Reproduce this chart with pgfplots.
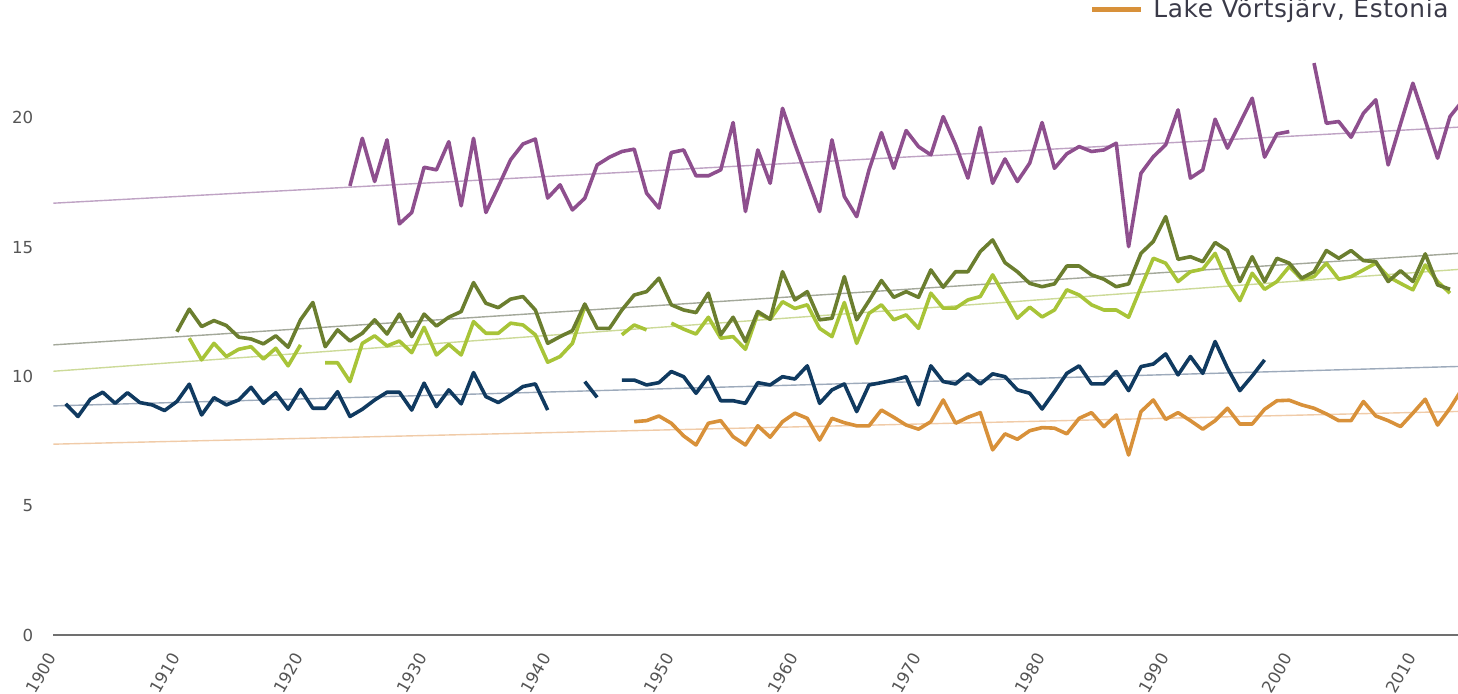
\documentclass[border=0pt]{standalone}
\usepackage{pgfplots}
\pgfplotsset{compat=1.18}
\usepackage{fontspec}
\setmainfont{DejaVu Sans}
\definecolor{cpurple}{HTML}{8E4F8E}
\definecolor{colive}{HTML}{6B7E2F}
\definecolor{clight}{HTML}{A8C438}
\definecolor{cnavy}{HTML}{103A60}
\definecolor{corange}{HTML}{D8913A}
\definecolor{tpurple}{HTML}{BFA3C4}
\definecolor{tolive}{HTML}{A3A89A}
\definecolor{tlight}{HTML}{CCDA98}
\definecolor{tnavy}{HTML}{9DAABB}
\definecolor{torange}{HTML}{F0CBA8}
\definecolor{axisgray}{HTML}{707070}
\definecolor{labelgray}{HTML}{555555}
\definecolor{legendtext}{HTML}{3A3A48}
\begin{document}
\begin{tikzpicture}
\begin{axis}[
  at={(0pt,0pt)}, anchor=south west,
  scale only axis, width=702.35pt, height=317.5pt,
  xmin=1900, xmax=2013.65, ymin=0, ymax=24.56,
  axis x line*=bottom, axis y line*=left,
  y axis line style={draw=none},
  x axis line style={draw=axisgray, line width=1.1pt},
  major tick length=0pt,
  xtick={1900,1910,...,2010}, ytick={0,5,...,20},
  /pgf/number format/assume math mode=true,
  /pgf/number format/1000 sep={},
  xticklabel style={xshift=1pt, yshift=-6.8pt, rotate=60, anchor=east, font=\fontsize{8.3}{10}\selectfont, text=labelgray},
  yticklabel style={font=\fontsize{8.3}{10}\selectfont, text=labelgray, xshift=-6.5pt},
  unbounded coords=jump,
  every axis plot/.append style={line join=round},
]
% trend lines
\addplot[tpurple, line width=0.7pt] coordinates {(1900,16.70) (2014,19.65)};
\addplot[tolive, line width=0.7pt] coordinates {(1900,11.22) (2014,14.77)};
\addplot[tlight, line width=0.7pt] coordinates {(1900,10.20) (2014,14.15)};
\addplot[tnavy, line width=0.7pt] coordinates {(1900,8.86) (2014,10.39)};
\addplot[torange, line width=0.7pt] coordinates {(1900,7.38) (2014,8.65)};
% purple
\addplot[cpurple, line width=1.8pt] coordinates {
(1924,17.37)(1925,19.21)(1926,17.54)(1927,19.15)(1928,15.90)(1929,16.34)(1930,18.09)(1931,17.99)(1932,19.08)(1933,16.60)
(1934,19.21)(1935,16.34)(1936,17.34)(1937,18.38)(1938,18.99)(1939,19.18)(1940,16.90)(1941,17.41)(1942,16.44)(1943,16.89)
(1944,18.18)(1945,18.48)(1946,18.70)(1947,18.79)(1948,17.09)(1949,16.51)(1950,18.66)(1951,18.76)(1952,17.76)(1953,17.76)
(1954,17.99)(1955,19.82)(1956,16.38)(1957,18.76)(1958,17.47)(1959,20.37)(1960,18.98)(1961,17.68)(1962,16.38)(1963,19.15)
(1964,16.96)(1965,16.18)(1966,17.99)(1967,19.43)(1968,18.05)(1969,19.51)(1970,18.89)(1971,18.57)(1972,20.05)(1973,18.96)
(1974,17.67)(1975,19.63)(1976,17.47)(1977,18.41)(1978,17.54)(1979,18.25)(1980,19.82)(1981,18.05)(1982,18.61)(1983,18.89)
(1984,18.70)(1985,18.76)(1986,19.02)(1987,15.02)(1988,17.86)(1989,18.50)(1990,18.96)(1991,20.31)(1992,17.67)(1993,17.99)
(1994,19.95)(1995,18.83)(1996,19.79)(1997,20.76)(1998,18.48)(1999,19.38)(2000,19.47)(2001,nan)(2002,22.12)(2003,19.79)
(2004,19.86)(2005,19.25)(2006,20.18)(2007,20.70)(2008,18.18)(2009,19.77)(2010,21.34)(2011,19.90)(2012,18.44)(2013,20.05)
(2014,20.65)};
% light green
\addplot[clight, line width=1.8pt] coordinates {
(1911,11.48)(1912,10.64)(1913,11.28)(1914,10.77)(1915,11.05)(1916,11.15)(1917,10.67)(1918,11.09)(1919,10.41)(1920,11.22)
(1921,nan)(1922,10.53)(1923,10.53)(1924,9.80)(1925,11.28)(1926,11.57)(1927,11.18)(1928,11.37)(1929,10.92)(1930,11.90)
(1931,10.83)(1932,11.24)(1933,10.83)(1934,12.12)(1935,11.67)(1936,11.67)(1937,12.06)(1938,11.99)(1939,11.61)(1940,10.55)
(1941,10.77)(1942,11.28)(1943,12.70)(1944,nan)(1945,nan)(1946,11.61)(1947,11.99)(1948,11.80)(1949,nan)(1950,12.06)
(1951,11.83)(1952,11.64)(1953,12.29)(1954,11.48)(1955,11.54)(1956,11.05)(1957,12.44)(1958,12.21)(1959,12.89)(1960,12.63)
(1961,12.77)(1962,11.86)(1963,11.54)(1964,12.86)(1965,11.28)(1966,12.44)(1967,12.77)(1968,12.19)(1969,12.38)(1970,11.86)
(1971,13.22)(1972,12.64)(1973,12.64)(1974,12.96)(1975,13.09)(1976,13.93)(1977,13.09)(1978,12.25)(1979,12.68)(1980,12.30)
(1981,12.57)(1982,13.35)(1983,13.15)(1984,12.77)(1985,12.57)(1986,12.57)(1987,12.29)(1988,13.45)(1989,14.57)(1990,14.38)
(1991,13.67)(1992,14.05)(1993,14.15)(1994,14.76)(1995,13.67)(1996,12.93)(1997,13.99)(1998,13.37)(1999,13.67)(2000,14.25)
(2001,13.76)(2002,13.86)(2003,14.38)(2004,13.76)(2005,13.86)(2006,14.12)(2007,14.38)(2008,13.86)(2009,13.60)(2010,13.35)
(2011,14.31)(2012,13.67)(2013,13.22)};
% dark olive
\addplot[colive, line width=1.8pt] coordinates {
(1910,11.73)(1911,12.60)(1912,11.93)(1913,12.16)(1914,11.97)(1915,11.52)(1916,11.45)(1917,11.26)(1918,11.57)(1919,11.13)
(1920,12.19)(1921,12.86)(1922,11.15)(1923,11.80)(1924,11.37)(1925,11.67)(1926,12.19)(1927,11.64)(1928,12.41)(1929,11.54)
(1930,12.41)(1931,11.95)(1932,12.29)(1933,12.51)(1934,13.63)(1935,12.83)(1936,12.66)(1937,12.99)(1938,13.09)(1939,12.57)
(1940,11.28)(1941,11.54)(1942,11.77)(1943,12.80)(1944,11.86)(1945,11.86)(1946,12.57)(1947,13.15)(1948,13.28)(1949,13.80)
(1950,12.77)(1951,12.57)(1952,12.47)(1953,13.22)(1954,11.61)(1955,12.29)(1956,11.35)(1957,12.51)(1958,12.21)(1959,14.05)
(1960,12.96)(1961,13.28)(1962,12.19)(1963,12.25)(1964,13.86)(1965,12.19)(1966,12.93)(1967,13.71)(1968,13.06)(1969,13.28)
(1970,13.06)(1971,14.12)(1972,13.45)(1973,14.05)(1974,14.05)(1975,14.83)(1976,15.28)(1977,14.40)(1978,14.05)(1979,13.60)
(1980,13.47)(1981,13.58)(1982,14.27)(1983,14.27)(1984,13.93)(1985,13.76)(1986,13.47)(1987,13.58)(1988,14.76)(1989,15.22)
(1990,16.18)(1991,14.53)(1992,14.63)(1993,14.44)(1994,15.18)(1995,14.87)(1996,13.67)(1997,14.63)(1998,13.67)(1999,14.57)
(2000,14.38)(2001,13.80)(2002,14.05)(2003,14.87)(2004,14.57)(2005,14.87)(2006,14.48)(2007,14.44)(2008,13.67)(2009,14.09)
(2010,13.67)(2011,14.74)(2012,13.54)(2013,13.37)};
% navy
\addplot[cnavy, line width=1.8pt] coordinates {
(1901,8.94)(1902,8.45)(1903,9.12)(1904,9.39)(1905,8.96)(1906,9.37)(1907,8.99)(1908,8.90)(1909,8.68)(1910,9.03)
(1911,9.70)(1912,8.51)(1913,9.18)(1914,8.90)(1915,9.09)(1916,9.58)(1917,8.96)(1918,9.37)(1919,8.73)(1920,9.50)
(1921,8.77)(1922,8.77)(1923,9.41)(1924,8.45)(1925,8.73)(1926,9.09)(1927,9.39)(1928,9.39)(1929,8.70)(1930,9.74)
(1931,8.83)(1932,9.48)(1933,8.94)(1934,10.15)(1935,9.22)(1936,8.99)(1937,9.28)(1938,9.61)(1939,9.71)(1940,8.70)
(1941,nan)(1942,nan)(1943,9.80)(1944,9.19)(1945,nan)(1946,9.86)(1947,9.86)(1948,9.67)(1949,9.76)(1950,10.19)
(1951,9.99)(1952,9.35)(1953,9.99)(1954,9.06)(1955,9.06)(1956,8.96)(1957,9.76)(1958,9.67)(1959,9.99)(1960,9.90)
(1961,10.41)(1962,8.96)(1963,9.48)(1964,9.71)(1965,8.64)(1966,9.67)(1967,9.76)(1968,9.86)(1969,9.99)(1970,8.90)
(1971,10.41)(1972,9.80)(1973,9.71)(1974,10.10)(1975,9.71)(1976,10.10)(1977,9.99)(1978,9.48)(1979,9.35)(1980,8.74)
(1981,9.41)(1982,10.12)(1983,10.41)(1984,9.71)(1985,9.71)(1986,10.19)(1987,9.45)(1988,10.38)(1989,10.48)(1990,10.87)
(1991,10.06)(1992,10.77)(1993,10.12)(1994,11.35)(1995,10.32)(1996,9.45)(1997,10.02)(1998,10.64)};
% orange
\addplot[corange, line width=1.8pt] coordinates {
(1947,8.25)(1948,8.29)(1949,8.47)(1950,8.19)(1951,7.70)(1952,7.35)(1953,8.19)(1954,8.29)(1955,7.67)(1956,7.35)
(1957,8.09)(1958,7.65)(1959,8.25)(1960,8.58)(1961,8.38)(1962,7.54)(1963,8.38)(1964,8.21)(1965,8.09)(1966,8.09)
(1967,8.70)(1968,8.42)(1969,8.12)(1970,7.96)(1971,8.25)(1972,9.09)(1973,8.19)(1974,8.42)(1975,8.60)(1976,7.16)
(1977,7.78)(1978,7.57)(1979,7.90)(1980,8.02)(1981,8.00)(1982,7.78)(1983,8.38)(1984,8.60)(1985,8.06)(1986,8.51)
(1987,6.96)(1988,8.64)(1989,9.09)(1990,8.34)(1991,8.60)(1992,8.29)(1993,7.96)(1994,8.29)(1995,8.77)(1996,8.16)
(1997,8.16)(1998,8.73)(1999,9.06)(2000,9.08)(2001,8.90)(2002,8.77)(2003,8.55)(2004,8.29)(2005,8.29)(2006,9.03)
(2007,8.47)(2008,8.29)(2009,8.06)(2010,8.58)(2011,9.12)(2012,8.12)(2013,8.77)(2014,9.53)};
\end{axis}
\draw[corange, line width=2.5pt] (519.35pt,312.5pt) -- (543.85pt,312.5pt);
\node[anchor=base west, inner sep=0pt, font=\fontsize{12.4}{14}\selectfont\addfontfeature{LetterSpace=2.5}, text=legendtext] at (549.85pt,308.5pt) {Lake Võrtsjärv, Estonia};
\pgfresetboundingbox
\useasboundingbox (-26.65pt,-29.5pt) rectangle (702.35pt,317.5pt);
\end{tikzpicture}
\end{document}
